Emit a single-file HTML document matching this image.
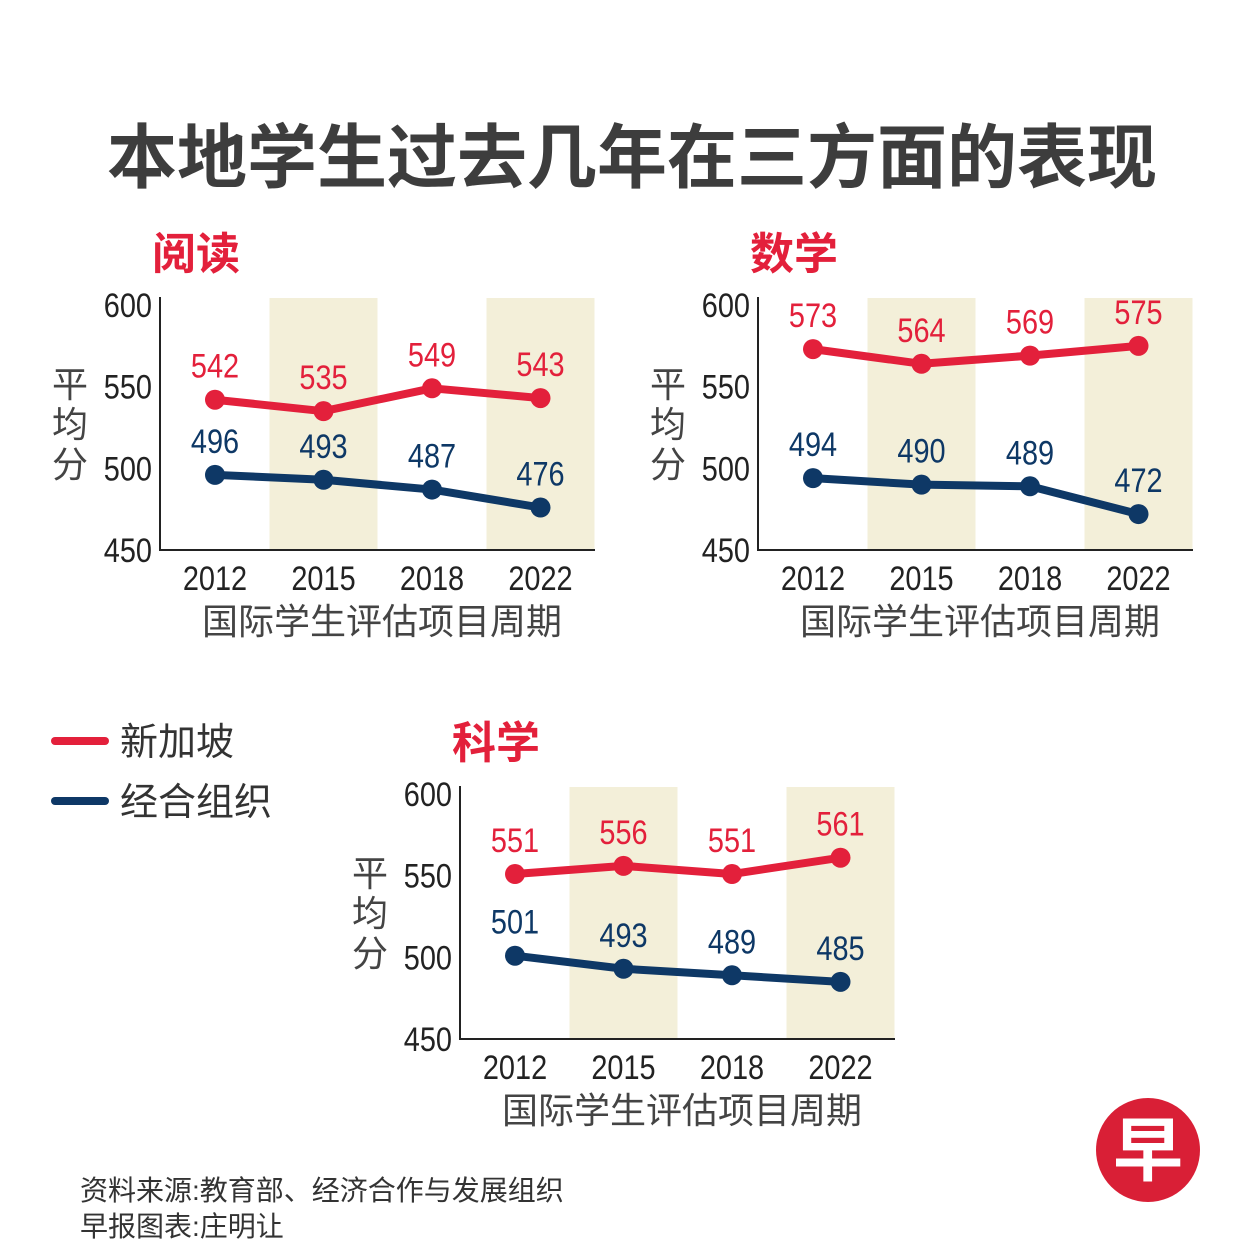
<!DOCTYPE html>
<html><head><meta charset="utf-8"><style>
body{margin:0;background:#fff;width:1251px;height:1251px;overflow:hidden}
svg{display:block}
text{font-family:"Liberation Sans","Noto Sans CJK SC",sans-serif}
</style></head><body>
<svg id="c" width="1251" height="1251" viewBox="0 0 1251 1251">
<text x="632" y="182" text-anchor="middle" font-size="70" font-weight="bold" fill="#3d3d3d">本地学生过去几年在三方面的表现</text>
<g>
<line x1="55" y1="741" x2="105" y2="741" stroke="#e3203b" stroke-width="8" stroke-linecap="round"/>
<text x="120" y="755" font-size="38" fill="#333">新加坡</text>
<line x1="55" y1="801" x2="105" y2="801" stroke="#0e3866" stroke-width="8" stroke-linecap="round"/>
<text x="120" y="815" font-size="38" fill="#333">经合组织</text>
</g>
<text x="80" y="1200" font-size="28" fill="#333">资料来源:教育部、经济合作与发展组织</text>
<text x="80" y="1236" font-size="28" fill="#333">早报图表:庄明让</text>
<g>
<circle cx="1148" cy="1150" r="52" fill="#d91f36"/>
<text x="1148" y="1175" text-anchor="middle" font-size="70" font-weight="bold" fill="#fff">早</text>
</g>
</svg>
<script>
const years=["2012","2015","2018","2022"];
const yTicks=[600,550,500,450];
const readingSG=[542,535,549,543];
const readingOECD=[496,493,487,476];
const mathSG=[573,564,569,575];
const mathOECD=[494,490,489,472];
const scienceSG=[551,556,551,561];
const scienceOECD=[501,493,489,485];
const svg=document.getElementById('c');
const NS='http://www.w3.org/2000/svg';
function mk(tag,attrs,parent){const e=document.createElementNS(NS,tag);for(const k in attrs)e.setAttribute(k,attrs[k]);parent.appendChild(e);return e;}
function chart(name,title,ox,oy,sg,oecd){
  const g=mk('g',{},svg);
  
  
  const top=oy, bot=oy+245, left=ox, right=ox+435;
  const y=v=>top+(600-v)/150*245;
  const x=i=>ox+55+i*108.5;
  [1,3].forEach(i=>{const r=mk('rect',{x:x(i)-54,y:top-7,width:108,height:bot-top+7,fill:'#f3efd9'},g);
    
    });
  const t=mk('text',{x:ox-8,y:oy-36,'font-size':44,'font-weight':'bold',fill:'#e3203b'},g);t.textContent=title;
  
  
  const ax=mk('path',{d:`M${left} ${top-8}V${bot}H${right}`,stroke:'#222','stroke-width':2,fill:'none'},g);
  
  
  yTicks.forEach(v=>{const e=mk('text',{x:left-8,y:y(v)+12,'text-anchor':'end','font-size':34,fill:'#222',transform:`translate(${left-8} 0) scale(0.85 1) translate(${-(left-8)} 0)`},g);e.textContent=v;
    
    });
  ['平','均','分'].forEach((c,i)=>{const e=mk('text',{x:left-90,y:top+92+i*40,'text-anchor':'middle','font-size':36,fill:'#444'},g);e.textContent=c;
    
    });
  years.forEach((yr,i)=>{const e=mk('text',{x:x(i),y:bot+40,'text-anchor':'middle','font-size':34,fill:'#222',transform:`translate(${x(i)} 0) scale(0.85 1) translate(${-x(i)} 0)`},g);e.textContent=yr;
    
    });
  const xt=mk('text',{x:ox+222,y:bot+84,'text-anchor':'middle','font-size':36,fill:'#444'},g);xt.textContent='国际学生评估项目周期';
  
  
  [[sg,'#e3203b','singapore'],[oecd,'#0e3866','oecd']].forEach(([d,col,sn])=>{
    const p=mk('polyline',{points:d.map((v,i)=>x(i)+','+y(v)).join(' '),stroke:col,'stroke-width':8,fill:'none','stroke-linejoin':'round'},g);
    
    
    d.forEach((v,i)=>{const c=mk('circle',{cx:x(i),cy:y(v),r:10,fill:col},g);
      
      
      const l=mk('text',{x:x(i),y:y(v)-22,'text-anchor':'middle','font-size':34,fill:col,transform:`translate(${x(i)} 0) scale(0.85 1) translate(${-x(i)} 0)`},g);l.textContent=v;
      
      });
  });
}
chart('reading','阅读',160,305,readingSG,readingOECD);
chart('math','数学',758,305,mathSG,mathOECD);
chart('science','科学',460,794,scienceSG,scienceOECD);
</script>
</body></html>
